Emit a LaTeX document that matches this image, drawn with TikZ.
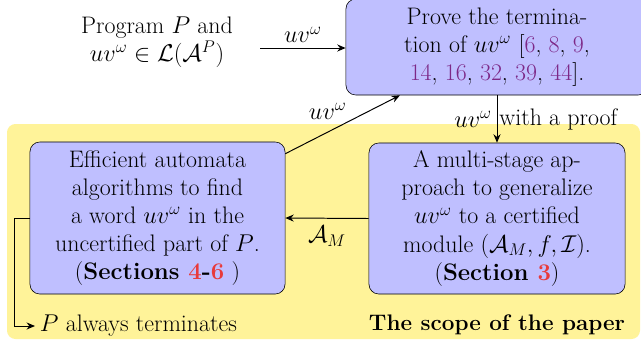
\documentclass[tikz,border=0pt]{standalone}
\usepackage{amsmath,amssymb}
\usetikzlibrary{arrows.meta}
\definecolor{stageblue}{RGB}{191,191,255}
\definecolor{scopeyellow}{RGB}{255,243,153}
\definecolor{citepurple}{RGB}{125,40,135}
\definecolor{secred}{RGB}{232,58,58}
\newcommand{\citeref}[1]{\textcolor{citepurple}{#1}}
\newcommand{\secref}[1]{\textcolor{secred}{#1}}
\tikzset{
  stage/.style={draw, fill=stageblue, rounded corners=7pt, align=center, inner sep=0pt},
  flow/.style={-{Stealth[length=6pt,width=5pt]}, line width=0.7pt},
}
\begin{document}
\begin{tikzpicture}[x=0.025cm, y=-0.025cm, font=\fontsize{17}{20}\selectfont]
        \useasboundingbox (0,0) rectangle (641,345);
        \fill[scopeyellow, rounded corners=6pt] (7,124) rectangle (640,339);
        % boxes
        \node[stage, minimum width=7.55cm, minimum height=2.4cm] (prove) at (497,47)
                {Prove the termina-\\tion of $uv^\omega$ [\citeref{6}, \citeref{8}, \citeref{9},\\\citeref{14}, \citeref{16}, \citeref{32}, \citeref{39}, \citeref{44}].};
        \node[stage, minimum width=6.375cm, minimum height=3.8cm] (find) at (157.5,218)
                {Efficient automata\\algorithms to find\\a word $uv^\omega$ in the\\uncertified part of $P$.\\(\textbf{Sections \secref{4}-\secref{6}} )};
        \node[stage, minimum width=6.4cm, minimum height=3.775cm] (gen) at (497,218.5)
                {A multi-stage ap-\\proach to generalize\\$uv^\omega$ to a certified\\module $(\mathcal{A}_M, f, \mathcal{I})$.\\(\textbf{Section \secref{3}})};
        \node[align=center] (prog) at (157,42) {Program $P$ and\\$uv^\omega \in \mathcal{L}(\mathcal{A}^P)$};
        \node[anchor=west] (term) at (35,326) {$P$ always terminates};
        \node[anchor=east, font=\fontsize{16}{20}\selectfont\bfseries] (scope) at (630,325) {The scope of the paper};
        \coordinate (start) at (260,48);
        % arrows
        \draw[flow] (start) -- node[above]{$uv^\omega$} (start -| prove.west);
        \draw[flow] ([yshift=-0.3cm]find.north east) -- node[above left, pos=0.55, inner sep=1pt]{$uv^\omega$} ([xshift=-2.425cm]prove.south);
        \draw[flow] (prove.south -| gen.north) -- node[left]{$uv^\omega$} node[right, xshift=-2pt]{with a proof} (gen.north);
        \draw[flow] (gen.west) -- node[below, yshift=-2pt]{$\mathcal{A}_M$} (find.east);
        \draw[flow] (find.west) -- ++(-15,0) |- (term.west);
\end{tikzpicture}
\end{document}
